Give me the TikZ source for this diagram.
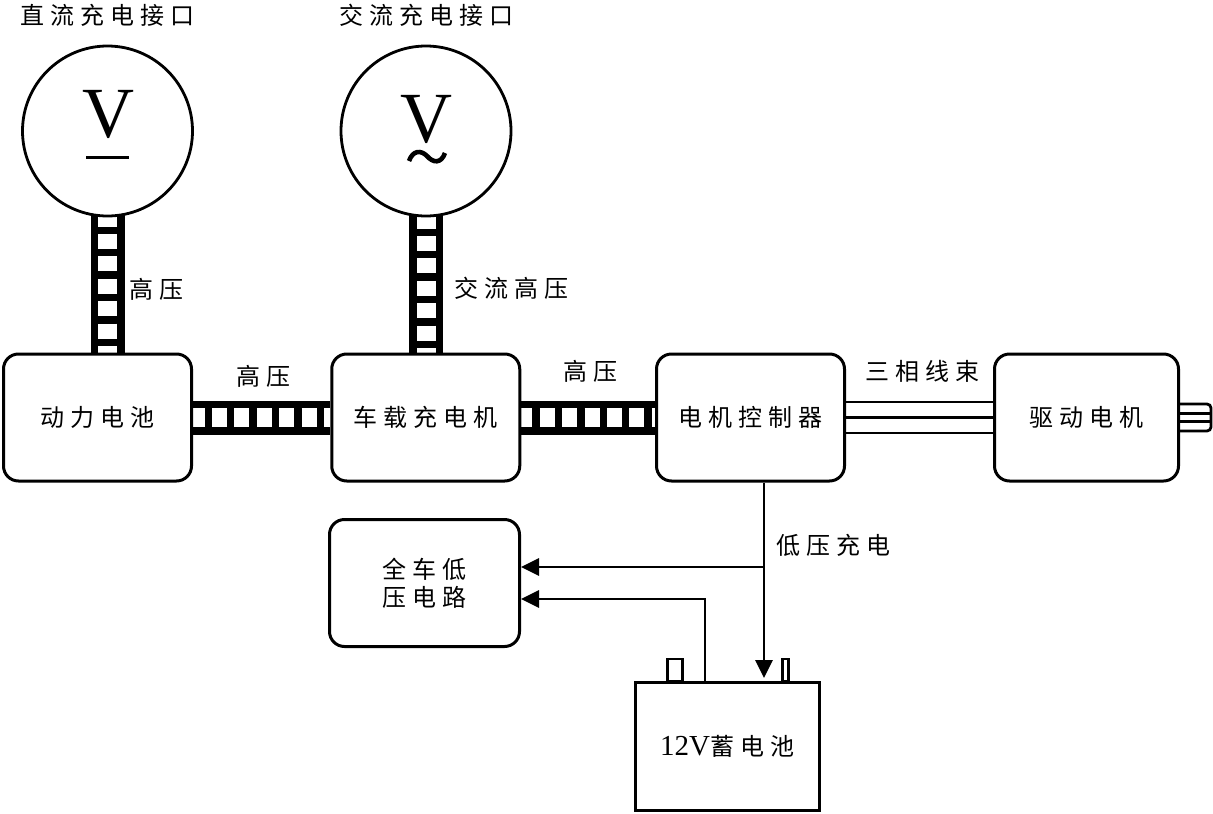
\documentclass[tikz,border=0pt]{standalone}
\usepackage{fontspec}
\setmainfont{Liberation Serif}
\newfontfamily\cjk{Noto Sans CJK SC}
\usetikzlibrary{arrows.meta,backgrounds}
\makeatletter
\newlength\chsp \setlength\chsp{6pt}
\def\zh@sp#1#2\@nil{#1\ifx\relax#2\relax\else\hspace{\chsp}\zh@sp#2\@nil\fi}
\newcommand\zh[1]{{\cjk\zh@sp#1\@nil}}
\makeatother
\begin{document}
\begin{tikzpicture}[x=1pt,y=-1pt,
  every node/.style={font=\fontsize{24pt}{28pt}\selectfont, inner sep=0pt},
  box/.style={draw, line width=3pt, rounded corners=15pt, fill=white, minimum width=188pt, minimum height=127pt},
  port/.style={draw, circle, line width=2.8pt, fill=white, minimum size=170pt},
  conn/.style={line width=2.8pt},
  arr/.style={conn, -{Triangle[length=18pt,width=17pt]}},
  ladder/.style={line width=34pt, postaction={draw=white, line width=19pt, dash pattern=on 15pt off 7.4pt, dash phase=#1}},
  lbl/.style={}
]
\useasboundingbox (0,0) rectangle (1213,814);

% titles
\node[lbl] (t1) at (107.5,15) {\zh{直流充电接口}};
\node[lbl] (t2) at (426,15) {\zh{交流充电接口}};

% ports
\node[port] (c1) at (107.5,131) {};
\node[port] (c2) at (426,131) {};
\node[font=\fontsize{72pt}{72pt}\selectfont, anchor=base] (vdc) at (108,137) {V};
\node[font=\fontsize{72pt}{72pt}\selectfont, anchor=base] (vac) at (426,142) {V};
\fill (86,155.5) rectangle (129,159);
\draw[line width=4.6pt] (409,161) .. controls (413,150) and (421,150) .. (427,156) .. controls (433,163) and (441,164) .. (445,153);

% boxes
\node[box] (bat) at (97.5,417.5) {\zh{动力电池}};
\node[box] (chg) at (425.75,417.5) {\zh{车载充电机}};
\node[box] (ctrl) at (750.5,417.5) {\zh{电机控制器}};
\node[box, minimum width=184pt] (motor) at (1086.5,417.5) {\zh{驱动电机}};
\node[box, minimum width=190pt, align=center] (lv) at (424.5,583) {\zh{全车低}\\\zh{压电路}};
\node[box, rounded corners=0pt, minimum width=184pt, minimum height=128pt] (b12) at (727.5,746.5)
  {{\fontsize{29pt}{29pt}\selectfont 12V}\hspace{1pt}\zh{蓄电池}};

% ladders (high-voltage cables)
\begin{pgfonlayer}{background}
\draw[ladder=9pt] (c1.center) -- (c1.center |- bat.north);
\draw[ladder=7pt] (c2.center) -- (c2.center |- chg.north);
\draw[ladder=3.4pt] (bat.east) -- (chg.west);
\draw[ladder=3.9pt] (chg.east) -- (ctrl.west);
\end{pgfonlayer}

% labels
\node[lbl] (l1) at (156,289) {\zh{高压}};
\node[lbl] (l2) at (511,288) {\zh{交流高压}};
\node[lbl] (l3) at (263,376) {\zh{高压}};
\node[lbl] (l4) at (590,371) {\zh{高压}};
\node[lbl] (l5) at (922,371) {\zh{三相线束}};
\node[lbl] (l6) at (833,545) {\zh{低压充电}};

% three-phase harness
\draw[conn] ([yshift=15.5pt]ctrl.east) -- ([yshift=15.5pt]motor.west);
\draw[conn] (ctrl.east) -- (motor.west);
\draw[conn] ([yshift=-15.5pt]ctrl.east) -- ([yshift=-15.5pt]motor.west);

% motor shaft
\draw[conn, rounded corners=4pt] ([yshift=13.5pt]motor.east) -- ++(31,0) -- ++(0,27) -- ++(-31,0);
\draw[conn] ([yshift=4pt]motor.east) -- ++(31,0);
\draw[conn] ([yshift=-4pt]motor.east) -- ++(31,0);

% battery terminals
\draw[conn] ([xshift=-60pt]b12.north) rectangle ([xshift=-45pt,yshift=22pt]b12.north);
\draw[conn] ([xshift=55pt]b12.north) rectangle ([xshift=61pt,yshift=22pt]b12.north);

% low voltage connectors
\coordinate (j1) at (764,567);
\coordinate (j2) at (705,599);
\draw[arr, shorten >=3pt] ([xshift=13.5pt]ctrl.south) -- ([xshift=36.5pt]b12.north);
\draw[arr] (j1) -- (j1 -| lv.east);
\draw[arr] ([xshift=-22.5pt]b12.north) -- (j2) -- (j2 -| lv.east);
\end{tikzpicture}
\end{document}
